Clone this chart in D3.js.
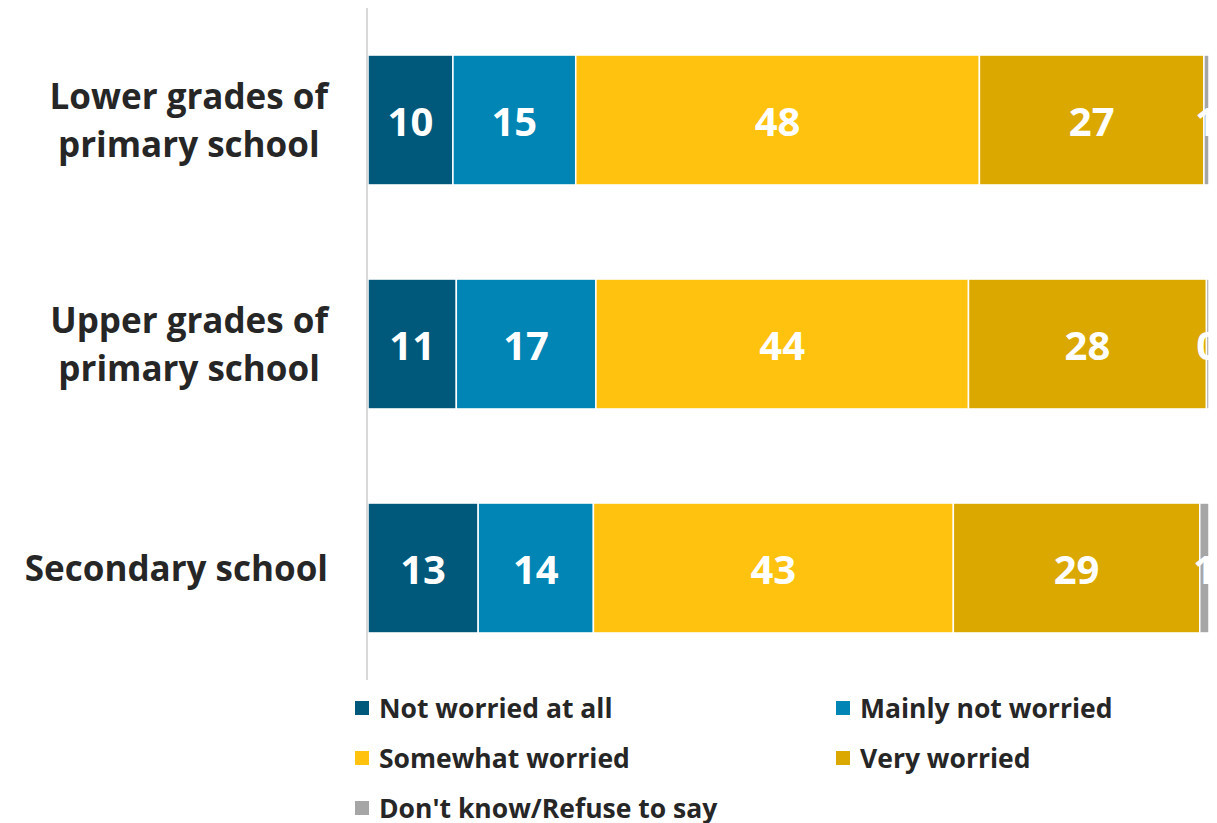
<!DOCTYPE html>
<html><head><meta charset="utf-8">
<script src="https://cdn.jsdelivr.net/npm/d3@7"></script>
<style>body{margin:0;background:#fff;}svg{display:block;font-family:"Open Sans","Noto Sans",sans-serif;}</style>
</head><body>
<svg id="c" width="1217" height="823"></svg>
<script>
const categories = ["Lower grades of\nprimary school", "Upper grades of\nprimary school", "Secondary school"];
const seriesNames = ["Not worried at all", "Mainly not worried", "Somewhat worried", "Very worried", "Don't know/Refuse to say"];
const notWorried = [10.1, 10.5, 13.1];
const mainlyNot = [14.6, 16.6, 13.7];
const somewhat = [48.0, 44.3, 42.8];
const very = [26.7, 28.3, 29.3];
const dontKnow = [0.6, 0.3, 1.1];
const colors = ["#00587a", "#0085b5", "#ffc20e", "#dba800", "#a6a6a6"];

const seriesVals = [notWorried, mainlyNot, somewhat, very, dontKnow];
const rows = categories.map((c, i) => {
  const o = {cat: c};
  seriesNames.forEach((s, j) => o[s] = seriesVals[j][i]);
  return o;
});
const stack = d3.stack().keys(seriesNames)(rows);

const svg = d3.select("#c");
const left = 368, right = 1210;
const x = d3.scaleLinear().domain([0, 100]).range([left, 1209]);
const y = d3.scaleBand().domain(categories).range([8, 680]).paddingInner(0.42).paddingOuter(0.21);

svg.append("clipPath").attr("id", "pc").append("rect")
  .attr("x", left).attr("y", 0).attr("width", right - left).attr("height", 690);

const g = svg.append("g").attr("clip-path", "url(#pc)");
const layers = g.selectAll("g.layer").data(stack).join("g").attr("fill", (d, i) => colors[i]);
layers.selectAll("rect").data(d => d).join("rect")
  .attr("x", d => x(d[0]))
  .attr("y", d => y(d.data.cat))
  .attr("width", d => Math.max(0, x(d[1]) - x(d[0])))
  .attr("height", y.bandwidth())
  .attr("stroke", "#fff").attr("stroke-width", 1.5);

layers.selectAll("text").data(d => d).join("text")
  .attr("x", d => (x(d[0]) + x(d[1])) / 2)
  .attr("y", d => y(d.data.cat) + y.bandwidth() / 2)
  .attr("dy", "0.4em")
  .attr("text-anchor", "middle")
  .attr("fill", "#fff").attr("font-weight", 700).attr("font-size", 40)
  .text(d => d3.format(".0f")(d[1] - d[0]));

// axis line
svg.append("line").attr("x1", 367).attr("x2", 367).attr("y1", 8).attr("y2", 680)
  .attr("stroke", "#d9d9d9").attr("stroke-width", 2);

// category labels
categories.forEach(c => {
  const lines = c.split("\n");
  const cy = y(c) + y.bandwidth() / 2;
  const lh = 48;
  const t = svg.append("g");
  const texts = lines.map((l, k) => t.append("text")
    .attr("y", cy + (k - (lines.length - 1) / 2) * lh)
    .attr("dy", "0.36em")
    .attr("font-weight", 700).attr("font-size", 35).attr("fill", "#262626")
    .attr("text-anchor", "middle").text(l));
  const widths = texts.map(tx => tx.node().getComputedTextLength());
  const w = d3.max(widths);
  texts.forEach(tx => tx.attr("x", 328 - w / 2));
});

// legend
const legPos = [[355, 708], [836, 708], [355, 758], [836, 758], [355, 808]];
seriesNames.forEach((s, i) => {
  const [lx, ly] = legPos[i];
  svg.append("rect").attr("x", lx).attr("y", ly - 7).attr("width", 14).attr("height", 14).attr("fill", colors[i]);
  svg.append("text").attr("x", lx + 24).attr("y", ly).attr("dy", "0.36em")
    .attr("font-weight", 700).attr("font-size", 26.5).attr("fill", "#262626").text(s);
});
</script>
</body></html>
